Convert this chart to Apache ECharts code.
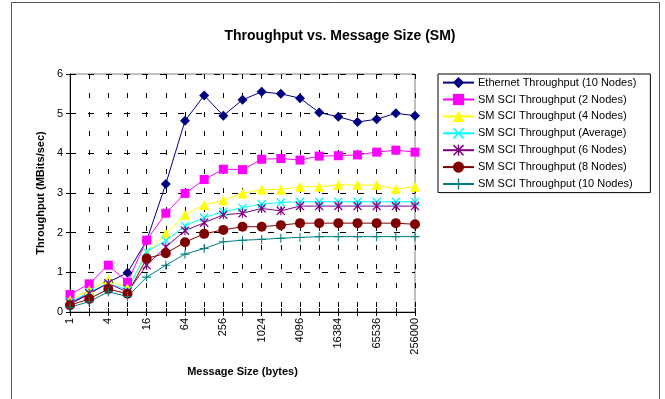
<!DOCTYPE html>
<html>
<head>
<meta charset="utf-8">
<script src="https://cdn.jsdelivr.net/npm/echarts@6/dist/echarts.min.js"></script>
<style>
html,body{margin:0;padding:0;background:#fff;}
#c{width:665px;height:399px;}
</style>
</head>
<body>
<div id="c"></div>
<script>
var categories = ['1','2','4','8','16','32','64','128','256','512','1024','2048','4096','8192','16384','32768','65536','131072','256000'];
var ethernet10 = [0.2,0.45,0.75,0.99,1.8,3.23,4.82,5.46,4.95,5.35,5.55,5.50,5.39,5.03,4.92,4.79,4.86,5.01,4.95];
var sci2 = [0.44,0.71,1.18,0.75,1.81,2.49,2.99,3.34,3.60,3.59,3.85,3.87,3.83,3.93,3.94,3.96,4.03,4.08,4.03];
var sci4 = [0.3,0.55,0.82,0.6,1.46,1.98,2.45,2.70,2.82,2.99,3.09,3.09,3.16,3.16,3.21,3.20,3.20,3.10,3.16];
var sciAvg = [0.25,0.5,0.73,0.55,1.52,1.80,2.17,2.38,2.53,2.63,2.72,2.76,2.78,2.78,2.78,2.78,2.78,2.78,2.78];
var sci6 = [0.22,0.47,0.72,0.5,1.18,1.64,2.05,2.25,2.45,2.49,2.61,2.55,2.67,2.67,2.67,2.67,2.67,2.67,2.67];
var sci8 = [0.17,0.33,0.58,0.46,1.35,1.48,1.76,1.97,2.07,2.15,2.15,2.19,2.24,2.24,2.24,2.24,2.24,2.24,2.21];
var sci10 = [0.12,0.26,0.51,0.39,0.88,1.18,1.46,1.60,1.77,1.81,1.83,1.86,1.88,1.90,1.90,1.90,1.90,1.90,1.90];
var seriesNames = ['Ethernet Throughput (10 Nodes)','SM SCI Throughput (2 Nodes)','SM SCI Throughput (4 Nodes)','SM SCI Throughput (Average)','SM SCI Throughput (6 Nodes)','SM SCI Throughput (8 Nodes)','SM SCI Throughput (10 Nodes)'];

var FONT = '"Liberation Sans", Arial, sans-serif';
var X_PATH = 'path://M0,1 L1,0 L5,4 L9,0 L10,1 L6,5 L10,9 L9,10 L5,6 L1,10 L0,9 L4,5 Z';
var STAR_PATH = 'path://M0,1 L1,0 L5,4 L9,0 L10,1 L6,5 L10,9 L9,10 L5,6 L1,10 L0,9 L4,5 Z M4.4,0 L5.6,0 L5.6,10 L4.4,10 Z';
var PLUS_PATH = 'path://M4.4,0 L5.6,0 L5.6,4.4 L10,4.4 L10,5.6 L5.6,5.6 L5.6,10 L4.4,10 L4.4,5.6 L0,5.6 L0,4.4 L4.4,4.4 Z';

function mk(name, data, color, symbol, size) {
  return {
    name: name, type: 'line', data: data,
    symbol: symbol, symbolSize: size, showSymbol: true,
    lineStyle: {color: color, width: 1},
    itemStyle: {color: color},
    emphasis: {disabled: true},
    animation: false
  };
}

var chart = echarts.init(document.getElementById('c'), null, {renderer: 'canvas'});
chart.setOption({
  animation: false,
  textStyle: {fontFamily: FONT},
  title: {
    text: 'Throughput vs. Message Size (SM)',
    left: 335, top: 24, textAlign: 'center',
    textStyle: {fontFamily: FONT, fontSize: 14, fontWeight: 'bold', color: '#000'}
  },
  graphic: [{
    type: 'rect', silent: true,
    shape: {x: 11.5, y: 2.5, width: 648, height: 420},
    style: {fill: 'none', stroke: '#555', lineWidth: 1}
  }],
  legend: {
    orient: 'vertical', left: 438, top: 74,
    padding: [3, 14, 3, 4],
    itemWidth: 31, itemHeight: 14, itemGap: 5.7,
    borderColor: '#000', borderWidth: 1,
    textStyle: {fontFamily: FONT, fontSize: 11, color: '#000', padding: [0,0,0,-1]},
    data: seriesNames
  },
  grid: {left: 70, right: 250, top: 74, bottom: 87, show: true, borderColor: '#808080', borderWidth: 1, containLabel: false},
  xAxis: [{
    type: 'category', data: categories, boundaryGap: false,
    axisLine: {lineStyle: {color: '#000', width: 1}},
    axisTick: {show: true, interval: 0, length: 4, lineStyle: {color: '#000'}},
    axisLabel: {interval: 1, rotate: 90, fontSize: 11, color: '#000', fontFamily: FONT, margin: 6},
    splitLine: {show: true, interval: 0, lineStyle: {color: '#000', type: [5, 14], width: 1}},
    name: 'Message Size (bytes)', nameLocation: 'middle', nameGap: 54,
    nameTextStyle: {fontFamily: FONT, fontSize: 11, fontWeight: 'bold', color: '#000'}
  }, {
    type: 'category', data: categories, boundaryGap: false, position: 'bottom',
    axisLine: {show: false},
    axisTick: {show: true, inside: true, interval: 0, length: 4, lineStyle: {color: '#000'}},
    axisLabel: {show: false}, splitLine: {show: false}
  }],
  yAxis: [{
    type: 'value', min: 0, max: 6, interval: 1,
    axisLine: {show: true, lineStyle: {color: '#000', width: 1}},
    axisTick: {show: true, length: 4, lineStyle: {color: '#000'}},
    axisLabel: {fontSize: 11, color: '#000', fontFamily: FONT, margin: 7},
    splitLine: {show: true, lineStyle: {color: '#000', type: [6, 12], width: 1}},
    name: 'Throughput (MBits/sec)', nameLocation: 'middle', nameGap: 23,
    nameTextStyle: {fontFamily: FONT, fontSize: 11, fontWeight: 'bold', color: '#000'}
  }, {
    type: 'value', min: 0, max: 6, interval: 1, position: 'left',
    axisLine: {show: false},
    axisTick: {show: true, inside: true, length: 4, lineStyle: {color: '#000'}},
    axisLabel: {show: false}, splitLine: {show: false}
  }],
  series: [
    mk(seriesNames[0], ethernet10, '#000080', 'diamond', 10),
    mk(seriesNames[1], sci2, '#FF00FF', 'rect', 9),
    mk(seriesNames[2], sci4, '#FFFF00', 'triangle', 10),
    mk(seriesNames[3], sciAvg, '#00FFFF', X_PATH, 9),
    mk(seriesNames[4], sci6, '#800080', STAR_PATH, 9),
    mk(seriesNames[5], sci8, '#800000', 'circle', 10),
    mk(seriesNames[6], sci10, '#008080', PLUS_PATH, 9)
  ]
});
</script>
</body>
</html>
